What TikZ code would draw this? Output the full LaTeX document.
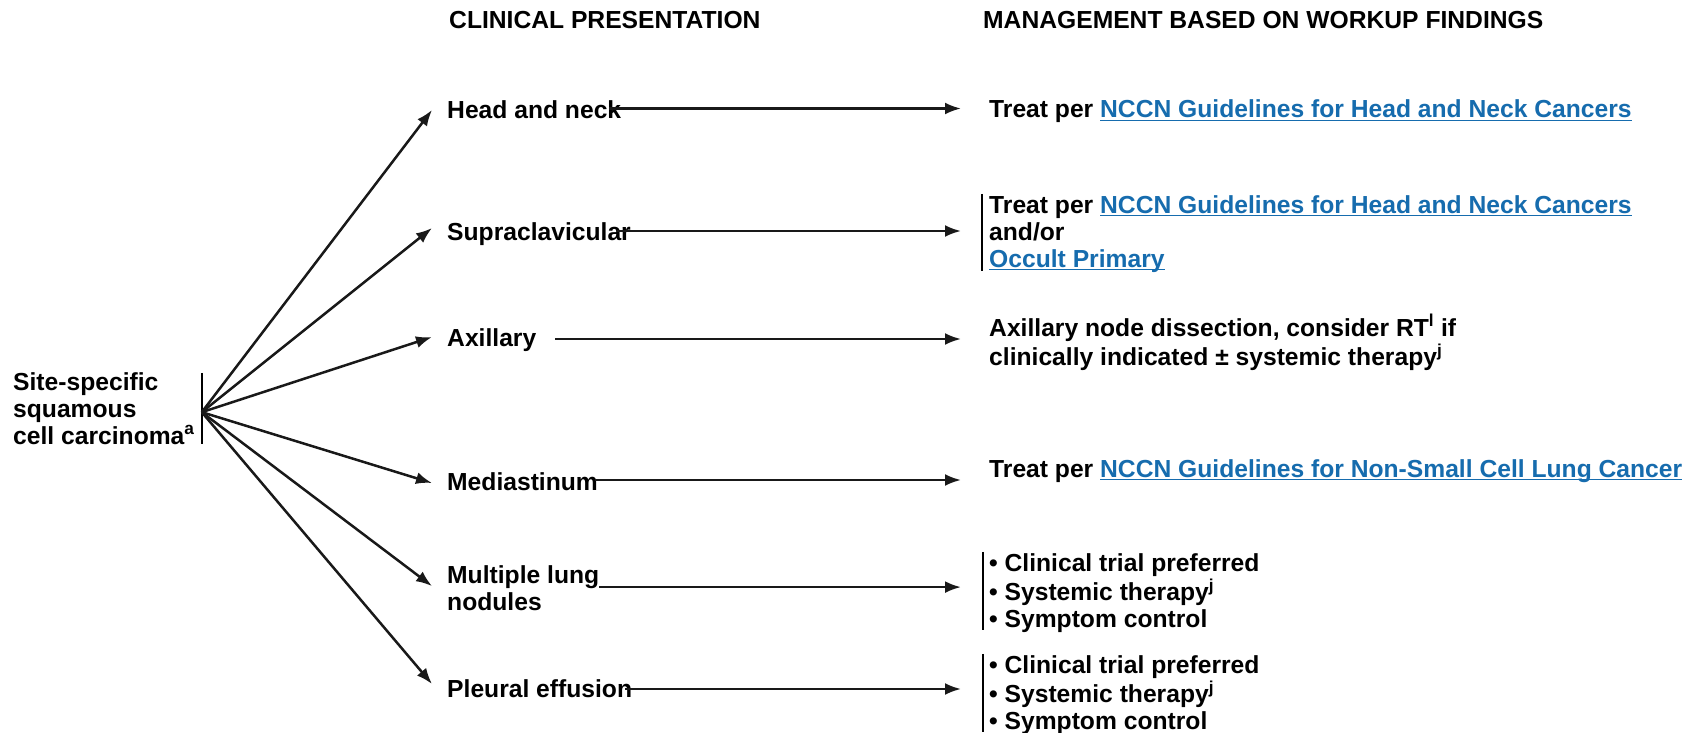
\documentclass[tikz,border=0pt]{standalone}
\usepackage{fontspec}
\setmainfont{Liberation Sans}
\usetikzlibrary{arrows.meta,calc}
\definecolor{linkblue}{RGB}{22,108,174}
% underlined link text
\newcommand\lnk[1]{{\color{linkblue}\setbox0=\hbox{#1}\rlap{\rule[-3.2pt]{\wd0}{1.4pt}}\box0}}
% stacked lines, baseline at the first line
\newcommand\blk[1]{\begin{tabular}[t]{@{}l@{}}#1\end{tabular}}
\begin{document}
\begin{tikzpicture}[x=1pt,y=-1pt,
  every node/.style={inner sep=0pt,font=\fontsize{24.65}{27}\selectfont\bfseries},
  lbl/.style={anchor=base west},
  one/.style={anchor=base west,text height=18pt,text depth=0pt},
  arr/.style={line width=2.5pt,draw=black!90,-{Latex[length=16pt,width=12pt]}},
  bar/.style={line width=1.8pt}]
\useasboundingbox[fill=white] (0,0) rectangle (1702,733);

% column headings
\node[one] (h1) at (449,29) {CLINICAL PRESENTATION};
\node[one] (h2) at (983,29) {MANAGEMENT BASED ON WORKUP FINDINGS};

% starting point
\node[lbl] (site) at (13,390) {\blk{Site-specific\\squamous\\cell carcinoma\textsuperscript{a}}};
\coordinate (b1) at ([xshift=7pt,yshift=-2pt]site.north east);
\coordinate (b2) at ([xshift=7pt,yshift=8pt]site.south east);
\draw[bar] (b1) -- (b2);
\coordinate (org) at ($(b1)!0.55!(b2)$);

% clinical presentations
\node[one] (hn) at (447,119) {Head and neck};
\node[one] (sc) at (447,240) {Supraclavicular};
\node[one] (ax) at (447,346) {Axillary};
\node[one] (md) at (447,490) {Mediastinum};
\node[lbl] (ml) at (447,583) {\blk{Multiple lung\\nodules}};
\node[one] (pe) at (447,697) {Pleural effusion};

% management
\node[one] (r1) at (989,118) {Treat per \lnk{NCCN Guidelines for Head and Neck Cancers}};
\node[lbl] (r2) at (989,213) {\blk{Treat per \lnk{NCCN Guidelines for Head and Neck Cancers}\\and/or\\\lnk{Occult Primary}}};
\node[lbl] (r3) at (989,336) {\blk{Axillary node dissection, consider RT\textsuperscript{l} if\\clinically indicated ± systemic therapy\textsuperscript{j}}};
\node[one] (r4) at (989,477) {Treat per \lnk{NCCN Guidelines for Non-Small Cell Lung Cancer}};
\node[lbl] (r5) at (989,571) {\blk{• Clinical trial preferred\\• Systemic therapy\textsuperscript{j}\\• Symptom control}};
\node[lbl] (r6) at (989,673) {\blk{• Clinical trial preferred\\• Systemic therapy\textsuperscript{j}\\• Symptom control}};

\draw[bar] ([xshift=-7pt]r2.north west) -- ([xshift=-7pt,yshift=4pt]r2.south west);
\draw[bar] ([xshift=-6pt]r5.north west) -- ([xshift=-6pt,yshift=6pt]r5.south west);
\draw[bar] ([xshift=-6pt]r6.north west) -- ([xshift=-6pt,yshift=6pt]r6.south west);

% fan of arrows
\foreach \n/\dy in {hn/0,sc/3,ax/0,md/-2,ml/5,pe/4}
  \draw[arr] (org) -- ([xshift=-15pt,yshift=\dy pt]\n.west);

% presentation to management
\foreach \n/\sx/\sy in {hn/-12/1.5,sc/-14/0,ax/19/-2,md/-3/1,ml/0/4,pe/-7/-1}
  \draw[arr] ([xshift=\sx pt,yshift=\sy pt]\n.east) coordinate (s) -- ($(s -| r1.west)+(-28,0)$);
\end{tikzpicture}
\end{document}
